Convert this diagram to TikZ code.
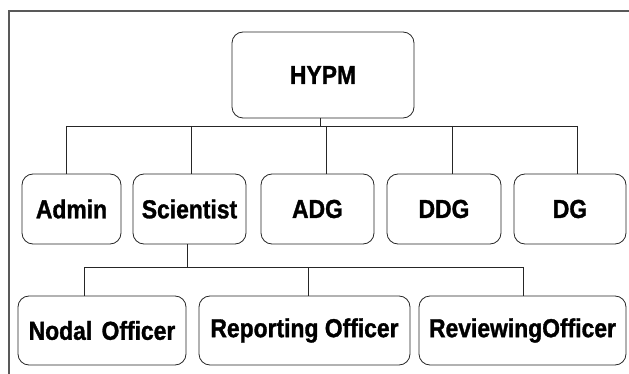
\documentclass[tikz,border=0pt]{standalone}
\usepackage{fontspec}
\setmainfont{Liberation Sans}[FakeStretch=0.88, BoldFeatures={FakeBold=1.2}]
\begin{document}
\begin{tikzpicture}[x=1pt,y=-1pt,
  orgbox/.style={draw=black!85, line width=0.8pt, rounded corners=11pt,
    inner sep=0pt, font=\fontsize{26}{30}\selectfont\bfseries, text=black},
  link/.style={draw=black!85, line width=0.8pt},
  frameline/.style={draw=black!65, line width=1.3pt}]
\useasboundingbox (0,0) rectangle (629,374);
% outer frame (top and left edges)
\draw[frameline] (629,11) -- (9,11) -- (9,374);

% top level
\node[orgbox, minimum width=182pt, minimum height=86pt] (hypm) at (323,75) {HYPM};

% second level
\node[orgbox, minimum width=99pt,  minimum height=70pt] (admin) at (71.5,209) {Admin};
\node[orgbox, minimum width=113pt, minimum height=70pt] (sci)   at (189.5,209) {Scientist};
\node[orgbox, minimum width=113pt, minimum height=70pt] (adg)   at (317.5,209) {ADG};
\node[orgbox, minimum width=114pt, minimum height=70pt] (ddg)   at (444,209) {DDG};
\node[orgbox, minimum width=112pt, minimum height=70pt] (dg)    at (570,209) {DG};

% third level
\node[orgbox, minimum width=168pt, minimum height=69pt] (nodal) at (102,330.5) {Nodal\hspace{3pt} Officer};
\node[orgbox, minimum width=211pt, minimum height=69pt] (rep)   at (304.5,330.5) {Reporting Officer};
\node[orgbox, minimum width=207pt, minimum height=69pt] (rev)   at (522.5,330.5) {ReviewingOfficer};

% bus points
\coordinate (topbus) at (320,126);
\coordinate (pA) at (66,126);
\coordinate (pS) at (191,126);
\coordinate (pADG) at (326,126);
\coordinate (pDDG) at (452,126);
\coordinate (pDG) at (577,126);
\coordinate (midbus) at (187,267);
\coordinate (qN) at (84,267);
\coordinate (qRp) at (308,267);
\coordinate (qRv) at (523,267);

% connectors, upper level
\draw[link] (hypm.south -| topbus) -- (topbus);
\draw[link] (pA) -- (pDG);
\draw[link] (pA) -- (admin.north -| pA);
\draw[link] (pS) -- (sci.north -| pS);
\draw[link] (pADG) -- (adg.north -| pADG);
\draw[link] (pDDG) -- (ddg.north -| pDDG);
\draw[link] (pDG) -- (dg.north -| pDG);

% connectors, lower level
\draw[link] (sci.south -| midbus) -- (midbus);
\draw[link] (qN) -- (qRv);
\draw[link] (qN) -- (nodal.north -| qN);
\draw[link] (qRp) -- (rep.north -| qRp);
\draw[link] (qRv) -- (rev.north -| qRv);
\end{tikzpicture}
\end{document}
